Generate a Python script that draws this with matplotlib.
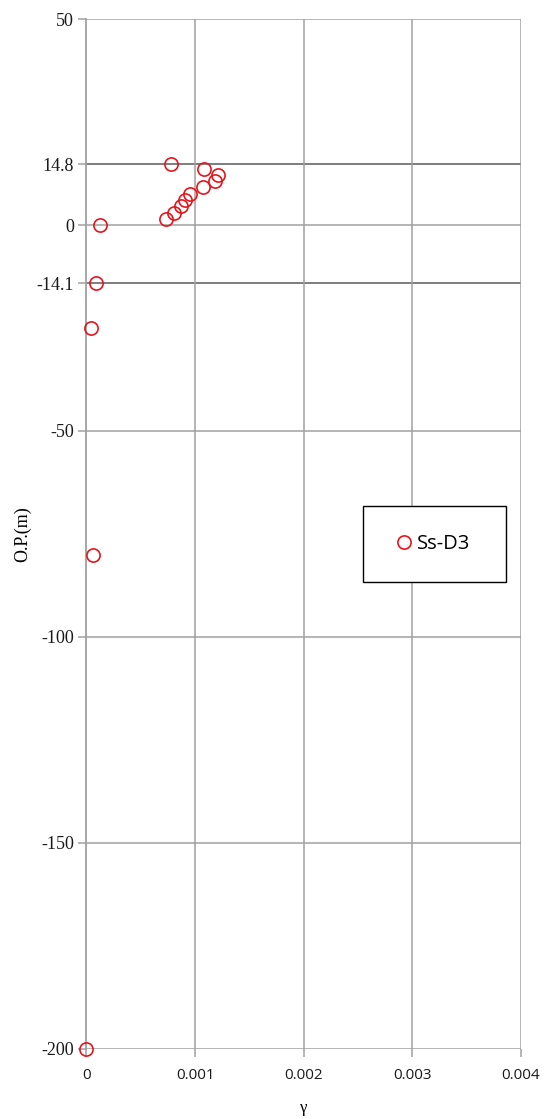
import matplotlib
matplotlib.use("Agg")
import matplotlib.pyplot as plt
from matplotlib.patches import Rectangle

# Shear strain profile against elevation
gamma = [0.00078, 0.00108, 0.00121, 0.00118, 0.00107, 0.00095, 0.00091,
         0.00087, 0.00081, 0.00073, 0.000125, 0.000087, 0.000042, 0.00006, 0.0]
elev = [14.8, 13.6, 12.1, 10.7, 9.2, 7.5, 6.1, 4.6, 2.9, 1.5, 0.0,
        -14.1, -25.0, -80.1, -200.0]

y_ticks = [50, 14.8, 0, -14.1, -50, -100, -150, -200]
y_tick_labels = ["50", "14.8", "0", "-14.1", "-50", "-100", "-150", "-200"]
x_ticks = [0, 0.001, 0.002, 0.003, 0.004]
x_tick_labels = ["0", "0.001", "0.002", "0.003", "0.004"]
layer_bounds = [14.8, -14.1]
series_name = "Ss-D3"

fig = plt.figure(figsize=(5.47, 11.19), dpi=100)
ax = fig.add_axes([0.158, 0.0626, 0.7945, 0.9204])

ax.set_xlim(0, 0.004)
ax.set_ylim(-200, 50)

grid_c = "#a0a0a0"
for yv in y_ticks:
    c = "#5a5a5a" if yv in layer_bounds else grid_c
    ax.axhline(yv, color=c, lw=1.1, zorder=1)
for xv in x_ticks[1:]:
    ax.axvline(xv, color=grid_c, lw=1.1, zorder=1)

for s in ["top", "right", "bottom"]:
    ax.spines[s].set_visible(False)
ax.spines["left"].set_color(grid_c)
ax.spines["left"].set_linewidth(1.3)

ax.set_yticks(y_ticks)
ax.set_yticklabels(y_tick_labels, fontfamily="Liberation Serif", fontsize=13)
ax.set_xticks(x_ticks)
ax.set_xticklabels(x_tick_labels, fontfamily="Open Sans", fontsize=11)
ax.tick_params(axis="both", direction="out", length=6, width=1.1,
               color=grid_c, labelcolor="#1a1a1a")
ax.tick_params(axis="y", pad=3)
ax.tick_params(axis="x", pad=8)

ln, = ax.plot(gamma, elev, linestyle="none", marker="o", markersize=9.5,
              markerfacecolor="none", markeredgecolor="#e8141c",
              markeredgewidth=1.2, clip_on=False, zorder=3, label=series_name)

ax.set_xlabel("γ", fontfamily="Liberation Serif", fontsize=12, labelpad=12)
ax.set_ylabel("O.P.(m)", fontfamily="Liberation Serif", fontsize=13, labelpad=4)

# legend box
box = Rectangle((0.636, 0.453), 0.329, 0.0738, transform=ax.transAxes,
                facecolor="white", edgecolor="black", lw=1.0, zorder=4)
ax.add_patch(box)
leg = ax.legend(handles=[ln], loc="center",
                bbox_to_anchor=(0.636 + 0.329 / 2, 0.453 + 0.0738 / 2),
                frameon=False, handlelength=0.6, handletextpad=0.35,
                prop={"family": "Open Sans", "size": 14.5})
leg.set_zorder(5)

fig.savefig("out.png", dpi=100)
